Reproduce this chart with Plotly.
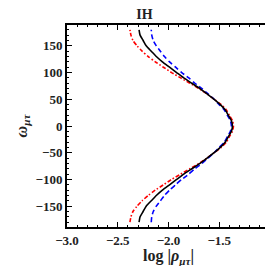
import plotly.graph_objects as go

omega_half = [0, 10, 20, 30, 40, 50, 60, 70, 80, 90, 100, 110, 120, 130, 140, 150, 160, 170, 180]
half_black = [-1.37, -1.38, -1.41, -1.44, -1.49, -1.55, -1.62, -1.69, -1.77, -1.85,
              -1.92, -1.99, -2.06, -2.12, -2.17, -2.22, -2.25, -2.28, -2.29]
half_red = [-1.36, -1.37, -1.40, -1.43, -1.48, -1.55, -1.62, -1.70, -1.79, -1.88,
            -1.97, -2.05, -2.13, -2.20, -2.26, -2.31, -2.35, -2.37, -2.38]
half_blue = [-1.38, -1.39, -1.42, -1.45, -1.50, -1.55, -1.61, -1.67, -1.74, -1.80,
             -1.87, -1.93, -1.99, -2.04, -2.08, -2.12, -2.15, -2.165, -2.17]

omega = [-w for w in omega_half[::-1]] + omega_half[1:]
rho_black = half_black[::-1] + half_black[1:]
rho_red = half_red[::-1] + half_red[1:]
rho_blue = half_blue[::-1] + half_blue[1:]

x_ticks = [-3.0, -2.5, -2.0, -1.5, -1.0]
x_tick_labels = ["<b>\u22123.0</b>", "<b>\u22122.5</b>", "<b>\u22122.0</b>", "<b>\u22121.5</b>", "<b>\u22121.0</b>"]
y_ticks = [-150, -100, -50, 0, 50, 100, 150]
y_tick_labels = ["<b>\u2212150</b>", "<b>\u2212100</b>", "<b>\u221250</b>", "<b>0</b>", "<b>50</b>", "<b>100</b>", "<b>150</b>"]

fig = go.Figure()
fig.add_trace(go.Scatter(x=rho_red, y=omega, mode="lines", line_shape="spline",
                         line=dict(color="#ff0000", width=1.6, dash="4px,2px,1.5px,2px", smoothing=0.6)))
fig.add_trace(go.Scatter(x=rho_blue, y=omega, mode="lines", line_shape="spline",
                         line=dict(color="#0000ff", width=1.6, dash="5px,3px", smoothing=0.6)))
fig.add_trace(go.Scatter(x=rho_black, y=omega, mode="lines", line_shape="spline",
                         line=dict(color="black", width=1.6, smoothing=0.6)))

font_serif = "Liberation Serif"
fig.update_layout(
    width=273, height=266,
    margin=dict(l=59, r=9, t=17, b=47),
    paper_bgcolor="white", plot_bgcolor="white",
    showlegend=False,
    title=dict(text="<b>IH</b>", x=0.5, xanchor="center", y=0.995, yanchor="top",
               font=dict(family=font_serif, size=14, color="#222")),
    font=dict(family=font_serif, color="#222"),
)
fig.update_xaxes(
    range=[-3.0, -1.0], tickvals=x_ticks, ticktext=x_tick_labels,
    ticks="inside", ticklen=5, tickwidth=1, tickcolor="black",
    minor=dict(ticks="inside", ticklen=2.5, dtick=0.1, tickcolor="black"),
    showline=True, linecolor="black", linewidth=1.8, mirror="allticks",
    showgrid=False, zeroline=False,
    tickfont=dict(family=font_serif, size=13, color="#222"),
    title=dict(text="<b>log |<i>ρ</i><sub><i>μτ</i></sub>|</b>", standoff=0,
               font=dict(family=font_serif, size=16, color="#222")),
)
fig.update_yaxes(
    range=[-189, 189], tickvals=y_ticks, ticktext=y_tick_labels,
    ticks="inside", ticklen=5, tickwidth=1, tickcolor="black",
    minor=dict(ticks="inside", ticklen=2.5, dtick=10, tickcolor="black"),
    showline=True, linecolor="black", linewidth=1.8, mirror="allticks",
    showgrid=False, zeroline=False,
    tickfont=dict(family=font_serif, size=13, color="#222"),
    title=dict(text="<b><i>ω</i><sub><i>μτ</i></sub></b>", standoff=4,
               font=dict(family=font_serif, size=16, color="#222")),
)
fig.write_html("out.html")
